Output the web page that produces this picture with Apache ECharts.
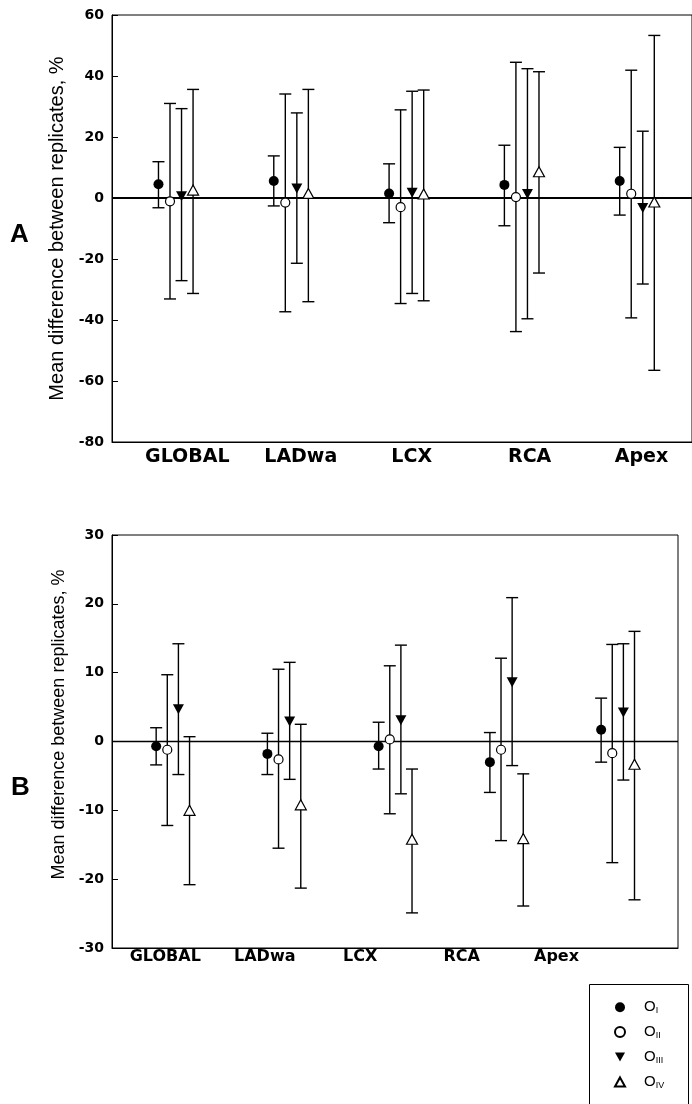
<!DOCTYPE html>
<html>
<head>
<meta charset="utf-8">
<script src="https://cdn.jsdelivr.net/npm/echarts@6/dist/echarts.min.js"></script>
<style>
html,body{margin:0;padding:0;background:#fff;}
#chart{width:692px;height:1104px;}
</style>
</head>
<body>
<div id="chart"></div>
<script>
// ---------- data ----------
const categories = ['GLOBAL', 'LADwa', 'LCX', 'RCA', 'Apex'];
const seriesNames = ['OI', 'OII', 'OIII', 'OIV'];
const subscripts = ['I', 'II', 'III', 'IV'];

// Panel A
const aMeanOI   = [4.5, 5.6, 1.5, 4.3, 5.6];
const aUpperOI  = [11.9, 13.8, 11.2, 17.3, 16.6];
const aLowerOI  = [-3.2, -2.6, -8.1, -9.1, -5.6];
const aMeanOII  = [-1.1, -1.5, -3.0, 0.3, 1.4];
const aUpperOII = [31.0, 34.1, 28.9, 44.5, 41.9];
const aLowerOII = [-33.1, -37.3, -34.6, -43.8, -39.3];
const aMeanOIII = [0.6, 3.1, 1.7, 1.3, -3.3];
const aUpperOIII= [29.3, 27.9, 35.0, 42.4, 21.9];
const aLowerOIII= [-27.1, -21.4, -31.3, -39.6, -28.2];
const aMeanOIV  = [2.6, 1.5, 1.3, 8.6, -1.3];
const aUpperOIV = [35.6, 35.6, 35.4, 41.4, 53.3];
const aLowerOIV = [-31.3, -34.0, -33.7, -24.6, -56.5];

// Panel B
const bMeanOI   = [-0.7, -1.8, -0.7, -3.0, 1.7];
const bUpperOI  = [2.0, 1.2, 2.8, 1.3, 6.3];
const bLowerOI  = [-3.4, -4.8, -4.0, -7.4, -3.0];
const bMeanOII  = [-1.2, -2.6, 0.3, -1.2, -1.7];
const bUpperOII = [9.7, 10.5, 11.0, 12.1, 14.1];
const bLowerOII = [-12.2, -15.5, -10.5, -14.4, -17.6];
const bMeanOIII = [4.7, 2.9, 3.1, 8.6, 4.2];
const bUpperOIII= [14.2, 11.5, 14.0, 20.9, 14.2];
const bLowerOIII= [-4.8, -5.5, -7.6, -3.5, -5.6];
const bMeanOIV  = [-10.0, -9.2, -14.2, -14.1, -3.3];
const bUpperOIV = [0.7, 2.5, -4.0, -4.7, 16.0];
const bLowerOIV = [-20.8, -21.3, -24.9, -23.9, -23.0];

const yTicksA = [-80, -60, -40, -20, 0, 20, 40, 60];
const yTicksB = [-30, -20, -10, 0, 10, 20, 30];
const yTitle = 'Mean difference between replicates, %';
const panelLetters = ['A', 'B'];

// ---------- layout / style ----------
const groupOffsets = [-0.15, -0.05, 0.05, 0.15];
const labelPosA = [1.10, 2.084, 3.046, 4.069, 5.039];
const labelPosB = [0.932, 1.826, 2.684, 3.597, 4.449];
const symbolStyles = [
  {symbol: 'circle', size: 10, rotate: 0, fill: '#000', icon: 'circle'},
  {symbol: 'circle', size: 9, rotate: 0, fill: '#fff', icon: 'circle'},
  {symbol: 'triangle', size: [11, 10], rotate: 180, fill: '#000', icon: 'path://M0,0L10,0L5,9Z'},
  {symbol: 'triangle', size: [11, 10], rotate: 0, fill: '#fff', icon: 'path://M5,0L10,9L0,9Z'}
];

const panelA = {
  means: [aMeanOI, aMeanOII, aMeanOIII, aMeanOIV],
  uppers: [aUpperOI, aUpperOII, aUpperOIII, aUpperOIV],
  lowers: [aLowerOI, aLowerOII, aLowerOIII, aLowerOIV]
};
const panelB = {
  means: [bMeanOI, bMeanOII, bMeanOIII, bMeanOIV],
  uppers: [bUpperOI, bUpperOII, bUpperOIII, bUpperOIV],
  lowers: [bLowerOI, bLowerOII, bLowerOIII, bLowerOIV]
};

const chart = echarts.init(document.getElementById('chart'), null, {renderer: 'canvas'});

function errRender(capHalf) {
  return function (params, api) {
    const x = api.value(0), lo = api.value(1), hi = api.value(2);
    const pLo = api.coord([x, lo]);
    const pHi = api.coord([x, hi]);
    const st = {stroke: '#000', lineWidth: 1.4};
    return {
      type: 'group',
      children: [
        {type: 'line', shape: {x1: pLo[0], y1: pLo[1], x2: pHi[0], y2: pHi[1]}, style: st},
        {type: 'line', shape: {x1: pHi[0] - capHalf, y1: pHi[1], x2: pHi[0] + capHalf, y2: pHi[1]}, style: st},
        {type: 'line', shape: {x1: pLo[0] - capHalf, y1: pLo[1], x2: pLo[0] + capHalf, y2: pLo[1]}, style: st}
      ]
    };
  };
}

const series = [];
[panelA, panelB].forEach(function (panel, pi) {
  seriesNames.forEach(function (name, si) {
    const data = categories.map(function (c, ci) {
      return [ci + 1 + groupOffsets[si], panel.lowers[si][ci], panel.uppers[si][ci]];
    });
    const s = {
      type: 'custom',
      name: 'err' + pi + name,
      xAxisIndex: pi, yAxisIndex: pi,
      renderItem: errRender(6),
      encode: {x: 0, y: [1, 2]},
      data: data,
      z: 2,
      silent: true
    };
    if (si === 0) {
      s.markLine = {
        silent: true, symbol: 'none',
        label: {show: false},
        lineStyle: {color: '#000', type: 'solid', width: pi === 0 ? 2 : 1.4},
        data: [{yAxis: 0}],
        z: 1
      };
    }
    series.push(s);
  });
  seriesNames.forEach(function (name, si) {
    const st = symbolStyles[si];
    series.push({
      type: 'scatter',
      name: name,
      xAxisIndex: pi, yAxisIndex: pi,
      symbol: st.symbol,
      symbolSize: st.size,
      symbolRotate: st.rotate,
      itemStyle: {color: st.fill, borderColor: '#000', borderWidth: st.fill === '#fff' ? 1.2 : 0, opacity: 1},
      data: categories.map(function (c, ci) { return [ci + 1 + groupOffsets[si], panel.means[si][ci]]; }),
      z: 5,
      silent: true
    });
  });
});

function xAxisFor(idx, min, max, labelPos, fontSize, margin) {
  return {
    type: 'value', gridIndex: idx, min: min, max: max,
    axisLine: {show: true, onZero: false, lineStyle: {color: '#000', width: 1}},
    axisTick: {show: false},
    splitLine: {show: false},
    axisLabel: {
      customValues: labelPos,
      margin: margin,
      fontFamily: 'DejaVu Sans', fontWeight: 'bold', fontSize: fontSize, color: '#000',
      formatter: function (v) {
        let best = 0, bd = Infinity;
        labelPos.forEach(function (p, i) { const d = Math.abs(p - v); if (d < bd) { bd = d; best = i; } });
        return categories[best];
      }
    }
  };
}

function yAxisFor(idx, ticks, nameSize, nameGap, namePad) {
  return {
    type: 'value', gridIndex: idx,
    min: ticks[0], max: ticks[ticks.length - 1], interval: ticks[1] - ticks[0],
    name: yTitle, nameLocation: 'middle', nameGap: nameGap,
    nameTextStyle: {fontFamily: 'Liberation Sans', fontSize: nameSize, color: '#000', padding: namePad},
    axisLine: {show: true, lineStyle: {color: '#000', width: 1}},
    axisTick: {show: true, inside: true, length: 6, lineStyle: {color: '#000', width: 1}},
    splitLine: {show: false},
    axisLabel: {margin: 8, fontFamily: 'DejaVu Sans', fontWeight: 'bold', fontSize: 14, color: '#000'}
  };
}

const option = {
  backgroundColor: '#fff',
  animation: false,
  title: [
    {text: panelLetters[0], left: 10, top: 222, padding: 0,
     textStyle: {fontFamily: 'Liberation Sans', fontWeight: 'bold', fontSize: 26, color: '#000'}},
    {text: panelLetters[1], left: 11, top: 775, padding: 0,
     textStyle: {fontFamily: 'Liberation Sans', fontWeight: 'bold', fontSize: 26, color: '#000'}}
  ],
  graphic: [
    {type: 'rect', x: 589.5, y: 984.5, shape: {width: 99, height: 140},
     style: {fill: 'none', stroke: '#000', lineWidth: 1}, silent: true}
  ],
  grid: [
    {left: 112, right: 0, top: 15, height: 427, show: true, borderColor: '#000', borderWidth: 1,
     backgroundColor: 'transparent', outerBoundsMode: 'none'},
    {left: 112, right: 14, top: 535, height: 413, show: true, borderColor: '#000', borderWidth: 1,
     backgroundColor: 'transparent', outerBoundsMode: 'none'}
  ],
  xAxis: [
    xAxisFor(0, 0.447, 5.477, labelPosA, 19, 6),
    xAxisFor(1, 0.453, 5.541, labelPosB, 16, 1)
  ],
  yAxis: [
    yAxisFor(0, yTicksA, 20, 42, 0),
    yAxisFor(1, yTicksB, 18, 44, [0, 0, 0, 34])
  ],
  legend: {
    orient: 'vertical',
    left: 589, top: 984,
    padding: [15.7, 0, 0, 25],
    itemWidth: 10, itemHeight: 10, itemGap: 9.4,
    selectedMode: false,
    data: seriesNames.map(function (n, i) {
      return {name: n, icon: symbolStyles[i].icon};
    }),
    formatter: function (name) {
      return '{o|O}{s|' + subscripts[seriesNames.indexOf(name)] + '}';
    },
    textStyle: {
      rich: {
        o: {fontFamily: 'Liberation Sans', fontSize: 15, color: '#000', lineHeight: 16, padding: [0, 0, 0, 14]},
        s: {fontFamily: 'Liberation Sans', fontSize: 9, color: '#000', lineHeight: 9, verticalAlign: 'bottom'}
      }
    }
  },
  series: series
};

chart.setOption(option);
</script>
</body>
</html>
